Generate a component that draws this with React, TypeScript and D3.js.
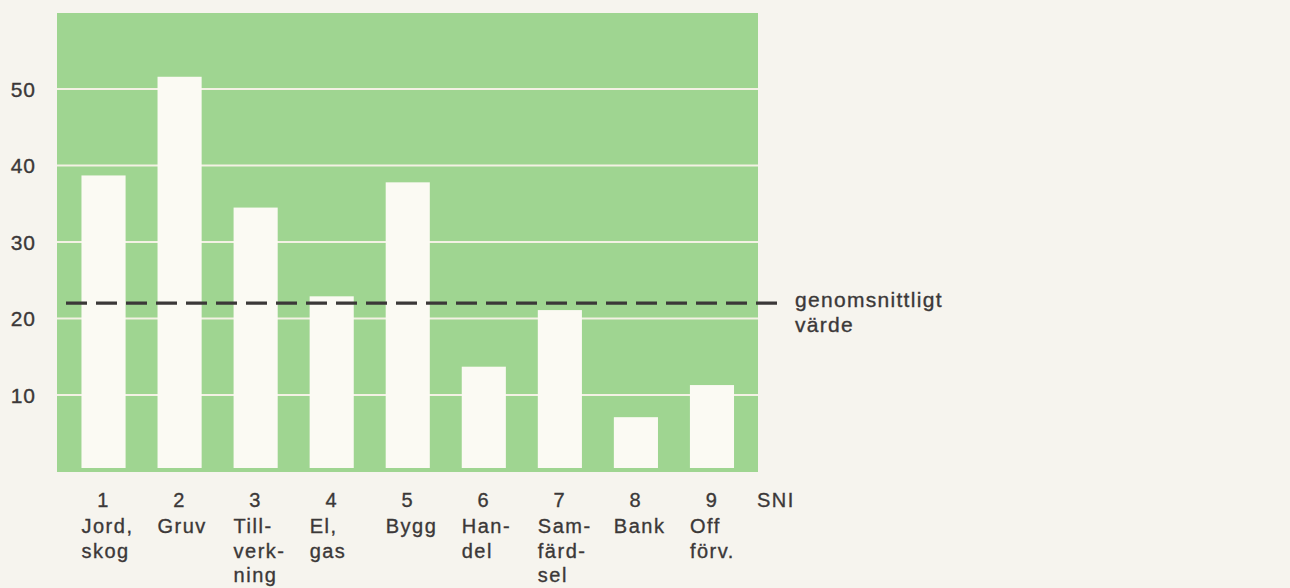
import React from "react";
import * as d3 from "d3";

const codes = ["1", "2", "3", "4", "5", "6", "7", "8", "9"];
const names: string[][] = [
  ["Jord,", "skog"],
  ["Gruv"],
  ["Till-", "verk-", "ning"],
  ["El,", "gas"],
  ["Bygg"],
  ["Han-", "del"],
  ["Sam-", "färd-", "sel"],
  ["Bank"],
  ["Off", "förv."],
];
const values = [38.7, 51.6, 34.5, 22.9, 37.8, 13.7, 21.1, 7.1, 11.3];
const average = 22;
const yTicks = [10, 20, 30, 40, 50];
const axisName = "SNI";
const averageLabel = ["genomsnittligt", "värde"];

const W = 1290;
const H = 588;
const panel = { left: 57, right: 758, top: 13, bottom: 472 };

const GREEN = "#9fd591";
const PAPER = "#f6f4ee";
const BAR = "#fbfaf3";
const INK = "#3b3838";
const FONT = "'Liberation Sans', Arial, sans-serif";

export default function App() {
  const x = d3
    .scaleBand<string>()
    .domain(codes)
    .range([65.5, 750])
    .paddingInner(0.42)
    .paddingOuter(0.21);
  const y = d3.scaleLinear().domain([0, 60]).range([471.5, 12.5]);
  const bw = x.bandwidth();
  const barBase = y(0) - 3.5;

  const textStyle = {
    fontFamily: FONT,
    fill: INK,
    stroke: INK,
    strokeWidth: 0.35,
  } as const;

  return (
    <svg
      width={W}
      height={H}
      style={{ position: "absolute", left: 0, top: 0, background: PAPER }}
    >
      <rect x={0} y={0} width={W} height={H} fill={PAPER} />
      <rect
        x={panel.left}
        y={panel.top}
        width={panel.right - panel.left}
        height={panel.bottom - panel.top}
        fill={GREEN}
      />
      {yTicks.map((t) => (
        <line
          key={"g" + t}
          x1={panel.left}
          x2={panel.right}
          y1={y(t)}
          y2={y(t)}
          stroke="#f3f1e4"
          strokeWidth={2}
        />
      ))}
      {values.map((v, i) => (
        <rect
          key={"b" + i}
          x={x(codes[i])!}
          y={y(v)}
          width={bw}
          height={barBase - y(v)}
          fill={BAR}
        />
      ))}
      <line
        x1={66}
        x2={782}
        y1={y(average)}
        y2={y(average)}
        stroke={INK}
        strokeWidth={3.3}
        strokeDasharray="21,9"
      />
      {yTicks.map((t) => (
        <text
          key={"t" + t}
          x={36}
          y={y(t) + 7.5}
          textAnchor="end"
          fontSize={21}
          letterSpacing={1}
          style={textStyle}
        >
          {t}
        </text>
      ))}
      {codes.map((c, i) => (
        <g key={"l" + c} fontSize={20} letterSpacing={1.5} style={textStyle}>
          <text x={x(c)! + bw / 2} y={507} textAnchor="middle">
            {c}
          </text>
          {names[i].map((n, j) => (
            <text key={j} x={x(c)!} y={533 + j * 24.5}>
              {n}
            </text>
          ))}
        </g>
      ))}
      <text x={757} y={507} fontSize={20} letterSpacing={1.5} style={textStyle}>
        {axisName}
      </text>
      {averageLabel.map((s, j) => (
        <text
          key={"a" + j}
          x={795}
          y={307 + j * 25}
          fontSize={21}
          letterSpacing={1.3}
          style={textStyle}
        >
          {s}
        </text>
      ))}
    </svg>
  );
}
